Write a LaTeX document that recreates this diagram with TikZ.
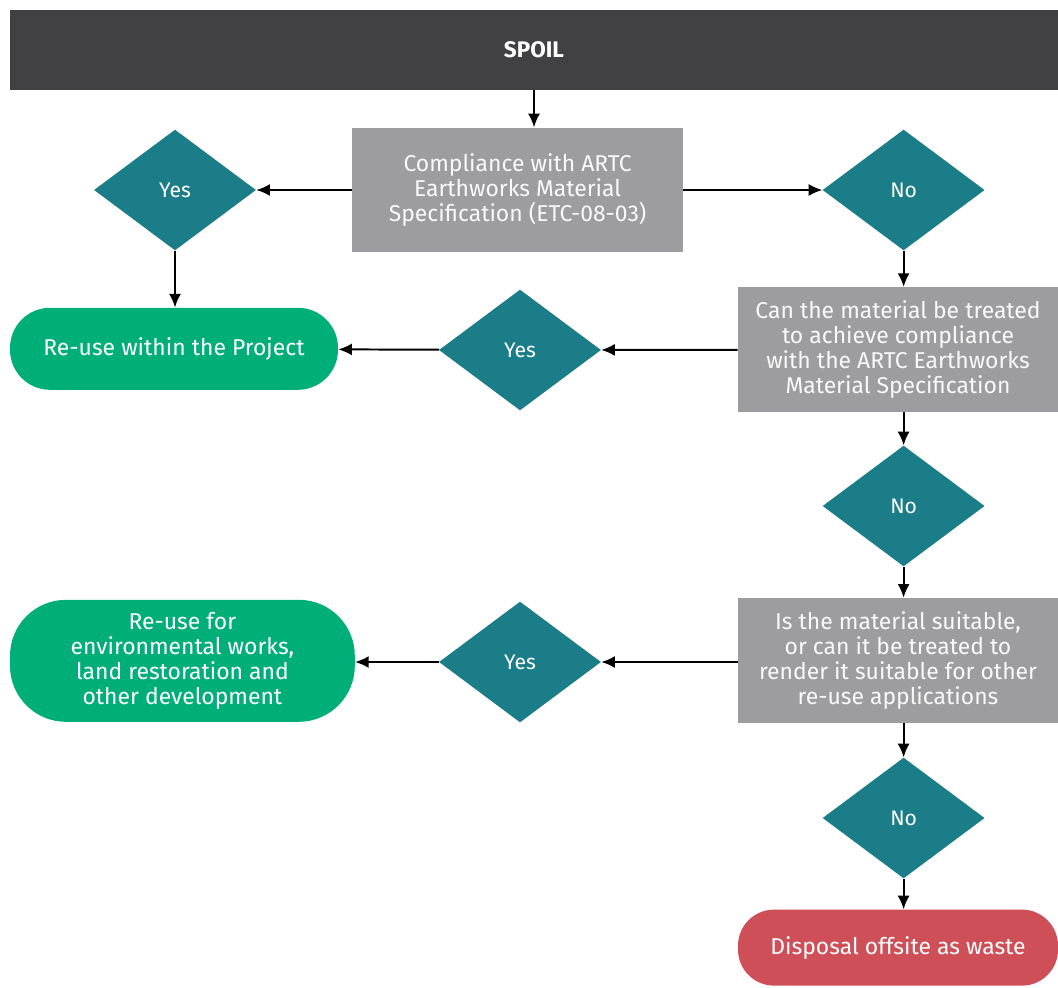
\documentclass[tikz,border=0pt]{standalone}
\usepackage{fontspec}
\setmainfont{Fira Sans}
\usepackage{xcolor}
\definecolor{SpoilDark}  {RGB}{65,  65,  67}
\definecolor{StepGray}   {RGB}{157, 157, 159}
\definecolor{DecTeal}    {RGB}{27,  125, 136}
\definecolor{ReuseGreen} {RGB}{0,   175, 120}
\definecolor{WasteRed}   {RGB}{207, 79,  88}
\usetikzlibrary{
  shapes.geometric,
  arrows.meta
}

\begin{document}
\begin{tikzpicture}[
  font=\fontsize{16.3}{17.8}\selectfont,
  box/.style={
    fill=StepGray, text=white!95!gray,
    minimum width=8.0cm,
    minimum height=3.12cm,
    align=center, inner sep=2pt
  },
  dec/.style={diamond,
    fill=DecTeal, text=white,
    font=\fontsize{15}{17}\selectfont,
    minimum width=4.05cm,
    minimum height=3.02cm,
    inner sep=0pt},
  reuse/.style={
    fill=ReuseGreen, text=white,
    rounded corners=1.0cm,
    align=center},
  waste/.style={
    fill=WasteRed, text=white,
    rounded corners=0.9cm,
    minimum width=8.0cm,
    minimum height=1.9cm},
  arrow/.style={
    -{Latex[length=3.4mm,width=3mm]},
    line width=1.4pt,
    color=black}
]
\useasboundingbox (0,0) rectangle (26.45,-24.675);

\node[fill=SpoilDark, text=white,
  minimum width=26.2cm, minimum height=2cm,
  font=\fontsize{16}{17}\selectfont\bfseries] (spoil) at (13.35,-1.25) {SPOIL};

\node[box, minimum width=8.28cm] (comply) at (12.94,-4.75)
  {Compliance with ARTC\\Earthworks Material\\Specification (ETC-08-03)};
\node[dec] (yes1) at (4.375,-4.75) {Yes};
\node[dec] (no1) at (22.59,-4.75) {No};

\node[reuse, minimum width=8.2cm, minimum height=2.05cm]
  (project) at (4.35,-8.72) {Re-use within the Project};
\node[box] (treat) at (22.45,-8.74)
  {Can the material be treated\\to achieve compliance\\with the ARTC Earthworks\\Material Specification};
\node[dec] (yes2) at (13.0,-8.75) {Yes};

\node[dec] (no2) at (22.59,-12.65) {No};

\node[box] (suitable) at (22.45,-16.51)
  {Is the material suitable,\\or can it be treated to\\render it suitable for other\\re-use applications};
\node[dec] (yes3) at (13.0,-16.55) {Yes};
\node[reuse, rounded corners=1.4cm,
  minimum width=8.62cm, minimum height=3.05cm]
  (enviro) at (4.56,-16.52)
  {Re-use for\\environmental works,\\land restoration and\\other development};

\node[dec] (no3) at (22.59,-20.45) {No};
\node[waste] (disposal) at (22.45,-23.69) {Disposal offsite as waste};

% connectors
\draw[arrow] (spoil) -- (spoil |- comply.north);
\draw[arrow] (comply) -- (yes1);
\draw[arrow] (comply) -- (no1);
\draw[arrow] (yes1.south) -- (yes1.south |- project.north);
\draw[arrow] (no1.south) -- (no1.south |- treat.north);
\draw[arrow] (treat) -- (yes2);
\draw[arrow] (yes2) -- (project);
\draw[arrow] (no1.south |- treat.south) -- (no2.north);
\draw[arrow] (no2.south) -- (no2.south |- suitable.north);
\draw[arrow] (suitable.west |- yes3) -- (yes3);
\draw[arrow] (yes3) -- (yes3 -| enviro.east);
\draw[arrow] (no2.south |- suitable.south) -- (no3.north);
\draw[arrow] (no3.south) -- (no3.south |- disposal.north);
\end{tikzpicture}
\end{document}
